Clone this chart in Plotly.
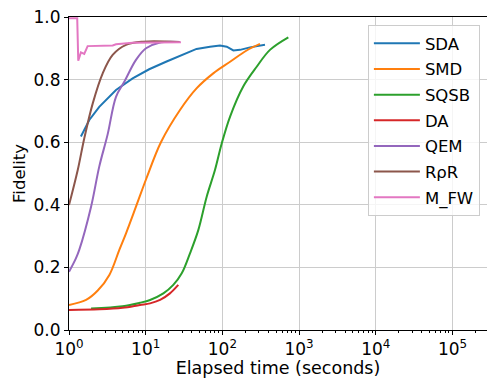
import plotly.graph_objects as go

# ---- data ----
sda_t = [1.43, 1.84, 2.48, 4.1, 6.76, 11.1, 18.4, 28, 46, 69, 93, 114, 139, 170, 229, 359]
sda_f = [0.618, 0.671, 0.713, 0.767, 0.804, 0.833, 0.857, 0.875, 0.898, 0.905, 0.909, 0.905, 0.893, 0.895, 0.903, 0.911]

smd_t = [1.0, 1.67, 2.37, 3.36, 4.53, 5.54, 7.47, 10.2, 15.8, 28, 46, 76, 126, 207, 309]
smd_f = [0.08, 0.096, 0.126, 0.176, 0.256, 0.309, 0.394, 0.484, 0.60, 0.703, 0.772, 0.82, 0.857, 0.893, 0.914]

sqsb_t = [1.94, 5.0, 8.4, 11.4, 17, 22.9, 29.5, 37.8, 48.5, 62.4, 80, 98, 126, 187, 280, 417, 724]
sqsb_f = [0.069, 0.076, 0.087, 0.096, 0.117, 0.144, 0.181, 0.245, 0.319, 0.426, 0.511, 0.596, 0.682, 0.778, 0.841, 0.895, 0.935]

da_t = [1.0, 2.5, 5.0, 8.4, 11.4, 15.4, 20.7, 26.6]
da_f = [0.064, 0.066, 0.071, 0.08, 0.085, 0.096, 0.117, 0.144]

qem_t = [1.0, 1.23, 1.36, 1.94, 2.48, 3.19, 4.1, 5.26, 7.47, 10.1, 15, 28]
qem_f = [0.186, 0.229, 0.256, 0.394, 0.522, 0.625, 0.745, 0.793, 0.863, 0.9, 0.918, 0.92]

rpr_t = [1.0, 1.3, 1.58, 2.04, 2.75, 3.71, 5.54, 9.1, 27.5]
rpr_f = [0.399, 0.511, 0.612, 0.724, 0.82, 0.879, 0.911, 0.921, 0.92]

mfw_t = [1.0, 1.28, 1.32, 1.43, 1.58, 1.75, 3.71, 4.1, 6.76, 28.8]
mfw_f = [0.996, 0.996, 0.86, 0.887, 0.882, 0.907, 0.909, 0.913, 0.918, 0.919]

series = [
    ("SDA", sda_t, sda_f, "#1f77b4", "linear"),
    ("SMD", smd_t, smd_f, "#ff7f0e", "spline"),
    ("SQSB", sqsb_t, sqsb_f, "#2ca02c", "spline"),
    ("DA", da_t, da_f, "#d62728", "spline"),
    ("QEM", qem_t, qem_f, "#9467bd", "spline"),
    ("RρR", rpr_t, rpr_f, "#8c564b", "spline"),
    ("M_FW", mfw_t, mfw_f, "#e377c2", "linear"),
]

x_tickvals = [1, 10, 100, 1000, 10000, 100000]
x_ticktext = ["10<sup>0</sup>", "10<sup>1</sup>", "10<sup>2</sup>", "10<sup>3</sup>", "10<sup>4</sup>", "10<sup>5</sup>"]
x_minorvals = [m * 10 ** k for k in range(0, 6) for m in range(2, 10)]
y_tickvals = [0, 0.2, 0.4, 0.6, 0.8, 1.0]

fig = go.Figure()
for i, (name, t, f, c, shp) in enumerate(series):
    line = dict(color=c, width=2, shape=shp)
    if shp == "spline":
        line["smoothing"] = 1.0
    fig.add_trace(go.Scatter(x=t, y=f, mode="lines", name=name, legendgroup=str(i), line=line))

font = "DejaVu Sans"
fig.update_layout(
    width=487, height=378,
    margin=dict(l=69, r=0, t=17, b=48),
    paper_bgcolor="white", plot_bgcolor="white",
    font=dict(family=font, size=17, color="black"),
    legend=dict(x=0.983, y=0.974, xanchor="right", yanchor="top",
                bgcolor="rgba(255,255,255,0.8)", bordercolor="#cccccc", borderwidth=1,
                font=dict(size=16.5), tracegroupgap=1.2, itemwidth=46),
    showlegend=True,
)
fig.update_xaxes(
    type="log", range=[0, 5.45],
    tickvals=x_tickvals, ticktext=x_ticktext,
    showgrid=True, gridcolor="#cccccc", gridwidth=1,
    showline=True, linecolor="black", linewidth=1, mirror=True,
    ticks="outside", ticklen=4, tickwidth=1, tickcolor="black",
    tickfont=dict(size=17),
    minor=dict(tickmode="array", tickvals=x_minorvals, ticks="outside", ticklen=2,
               tickwidth=0.8, tickcolor="black", showgrid=False),
    title=dict(text="Elapsed time (seconds)", standoff=7, font=dict(size=17.5)),
    zeroline=False, automargin=False,
)
fig.update_yaxes(
    range=[0, 1], tickvals=y_tickvals, tickformat=".1f",
    showgrid=True, gridcolor="#cccccc", gridwidth=1,
    showline=True, linecolor="black", linewidth=1, mirror=False,
    ticks="outside", ticklen=4, tickwidth=1, tickcolor="black",
    tickfont=dict(size=17),
    title=dict(text="Fidelity", standoff=3, font=dict(size=16.5)),
    zeroline=False, automargin=False,
)
fig.write_html("out.html", config={"displayModeBar": False},
               post_script="document.body.style.margin='0';")
